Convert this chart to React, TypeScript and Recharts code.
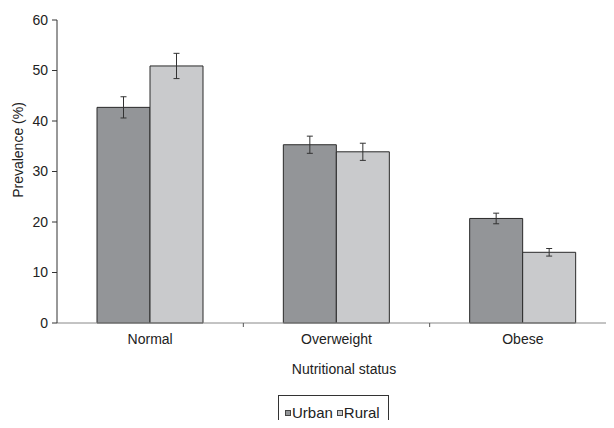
import { BarChart, Bar, XAxis, YAxis, ErrorBar } from 'recharts';

const categories = ['Normal', 'Overweight', 'Obese'];
const urbanValues = [42.7, 35.3, 20.7];
const ruralValues = [50.9, 33.9, 14.0];
const urbanErrors = [2.1, 1.7, 1.05];
const ruralErrors = [2.5, 1.7, 0.75];
const yTicks = [0, 10, 20, 30, 40, 50, 60];

const data = categories.map((name, i) => ({
  name,
  urban: urbanValues[i],
  rural: ruralValues[i],
  urbanErr: urbanErrors[i],
  ruralErr: ruralErrors[i],
}));

const FONT = '"Liberation Sans", Arial, sans-serif';
const CHART_W = 616;
const Y_AXIS_W = 57;
const HALF_BAND = (CHART_W - Y_AXIS_W) / categories.length / 2;

function CategoryTick(props: any) {
  const { x, y, payload, index } = props;
  return (
    <g>
      {index > 0 && (
        <line x1={x - HALF_BAND} x2={x - HALF_BAND} y1={y - 8} y2={y - 4} stroke="#555" />
      )}
      <text x={x} y={y + 13} textAnchor="middle" fontSize={14} fill="#222" fontFamily={FONT}>
        {payload.value}
      </text>
    </g>
  );
}

function LegendBox() {
  const items = [
    { label: 'Urban', color: '#939598' },
    { label: 'Rural', color: '#c9cacc' },
  ];
  return (
    <div
      style={{
        position: 'absolute',
        left: 278,
        top: 395,
        display: 'flex',
        alignItems: 'center',
        border: '1px solid #333',
        borderBottom: 'none',
        padding: '8px 4px 14px 6px',
        fontFamily: FONT,
        fontSize: 15,
        lineHeight: '17px',
        color: '#222',
      }}
    >
      {items.map((it) => (
        <span key={it.label} style={{ display: 'flex', alignItems: 'center', marginRight: 4 }}>
          <span
            style={{
              width: 4,
              height: 4,
              background: it.color,
              border: '1px solid #444',
              marginRight: 1,
              display: 'inline-block',
            }}
          />
          {it.label}
        </span>
      ))}
    </div>
  );
}

export default function App() {
  return (
    <div style={{ margin: -8, position: 'relative', width: 614, height: 428, overflow: 'hidden', background: '#fff' }}>
      <BarChart
        width={CHART_W}
        height={428}
        data={data}
        margin={{ top: 20, right: 0, left: 0, bottom: 75 }}
        barGap={0}
        barSize={53}
      >
        <XAxis
          dataKey="name"
          tick={<CategoryTick />}
          tickLine={false}
          axisLine={{ stroke: '#888' }}
          interval={0}
          height={30}
        />
        <YAxis
          width={Y_AXIS_W}
          domain={[0, 60]}
          ticks={yTicks}
          interval={0}
          tickSize={5}
          tickLine={{ stroke: '#333' }}
          axisLine={{ stroke: '#333' }}
          tick={{ fontSize: 14, fill: '#222', fontFamily: FONT }}
          tickMargin={4}
          label={{
            content: () => (
              <text
                transform="rotate(-90, 18, 150)"
                x={18}
                y={150}
                textAnchor="middle"
                dominantBaseline="central"
                fontSize={14}
                fill="#222"
                fontFamily={FONT}
              >
                Prevalence (%)
              </text>
            ),
          }}
        />
        <Bar dataKey="urban" fill="#939598" stroke="#2a2a2a" strokeWidth={1} isAnimationActive={false}>
          <ErrorBar dataKey="urbanErr" width={3} stroke="#333" strokeWidth={1} />
        </Bar>
        <Bar dataKey="rural" fill="#c9cacc" stroke="#2a2a2a" strokeWidth={1} isAnimationActive={false}>
          <ErrorBar dataKey="ruralErr" width={3} stroke="#333" strokeWidth={1} />
        </Bar>
        <text x={344} y={374} textAnchor="middle" fontSize={14} fill="#222" fontFamily={FONT}>
          Nutritional status
        </text>
      </BarChart>
      <LegendBox />
    </div>
  );
}
